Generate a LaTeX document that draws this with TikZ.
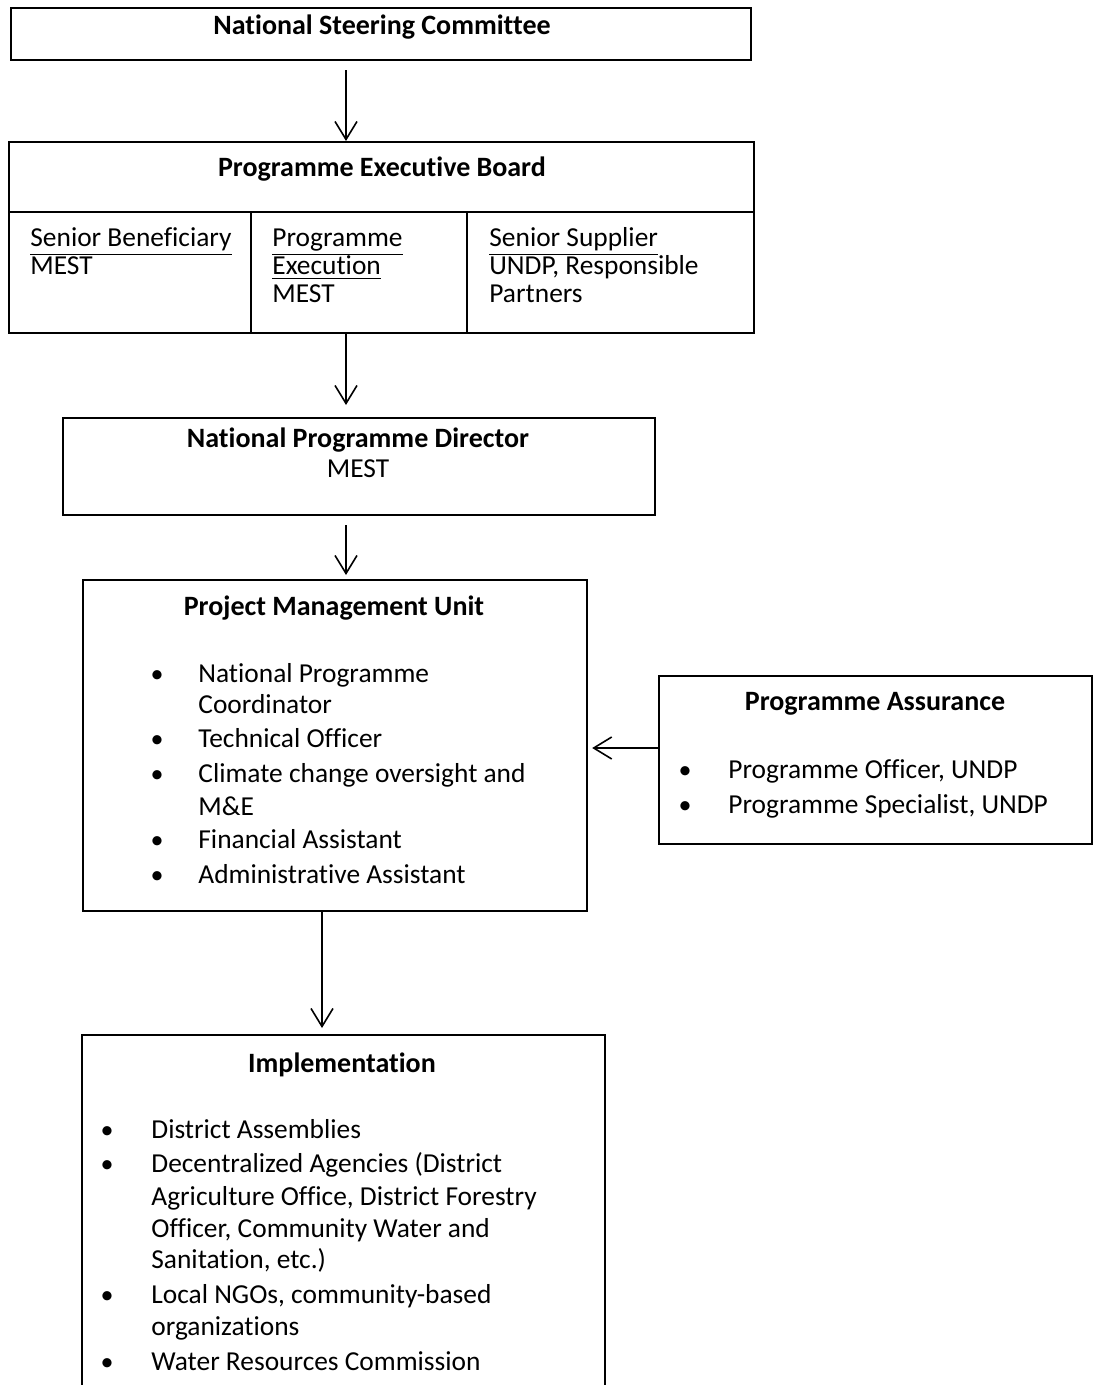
\documentclass[tikz,border=0pt]{standalone}
\usepackage{fontspec}
\setmainfont{Carlito}[Ligatures={NoCommon}]
\usetikzlibrary{arrows.meta}
\begin{document}
\begin{tikzpicture}[x=0.5pt,y=-0.5pt,
  box/.style={draw, line width=1.1pt, rectangle, inner sep=0, anchor=north west},
  openbox/.style={rectangle, inner sep=0, anchor=north west},
  divider/.style={line width=1.1pt},
  conn/.style={line width=0.8pt, -{Straight Barb[length=9pt,width=11pt,line width=0.8pt]}},
  txt/.style={inner sep=0, anchor=base west, font=\fontsize{13.7}{16}\selectfont},
  ttl/.style={inner sep=0, anchor=base, font=\fontsize{14}{16}\selectfont\bfseries},
  ctr/.style={inner sep=0, anchor=base, font=\fontsize{13.7}{16}\selectfont},
  bul/.style={inner sep=0, anchor=base, font=\fontsize{13}{16}\selectfont},
]
\useasboundingbox (0,0) rectangle (1094,1385);

% boxes
\node[box, minimum width=370pt, minimum height=26pt] (nsc) at (10,7) {};
\node[box, minimum width=372.5pt, minimum height=95.5pt] (peb) at (8,141) {};
\node[box, minimum width=296pt, minimum height=48.5pt] (npd) at (62,417) {};
\node[box, minimum width=252pt, minimum height=165.5pt] (pmu) at (82,579) {};
\node[box, minimum width=216.5pt, minimum height=84pt] (pa) at (658,675) {};
\node[openbox, minimum width=261pt, minimum height=176pt] (impl) at (82,1035) {};
\draw[divider] (impl.south west) |- (impl.north east) -- (impl.south east);

% PEB dividers
\coordinate (hd) at (0,212);
\coordinate (v1) at (251,0);
\coordinate (v2) at (467,0);
\draw[divider] (peb.west |- hd) -- (peb.east |- hd);
\draw[divider] (v1 |- hd) -- (v1 |- peb.south);
\draw[divider] (v2 |- hd) -- (v2 |- peb.south);

% connectors
\coordinate (c1) at (346,0);
\coordinate (c4) at (322,0);
\coordinate (cpa) at (0,748);
\draw[conn, shorten <=4.5pt] (c1 |- nsc.south) -- (c1 |- peb.north);
\draw[conn, shorten >=6pt] (c1 |- peb.south) -- (c1 |- npd.north);
\draw[conn, shorten <=4.5pt, shorten >=2pt] (c1 |- npd.south) -- (c1 |- pmu.north);
\draw[conn, shorten >=3.5pt] (c4 |- pmu.south) -- (c4 |- impl.north);
\draw[conn, shorten >=2pt] (pa.west |- cpa) -- (pmu.east |- cpa);

% National Steering Committee
\node[ttl] (t-nsc) at (382,35) {National Steering Committee};

% Programme Executive Board
\node[ttl] (t-peb) at (382,177) {Programme Executive Board};
\node[txt] (sb1) at (30,247) {\underline{Senior Beneficiary}};
\node[txt] (sb2) at (30,275) {MEST};
\node[txt] (pe1) at (272,247) {\underline{Programme}};
\node[txt] (pe2) at (272,275) {\underline{Execution}};
\node[txt] (pe3) at (272,303) {MEST};
\node[txt] (ss1) at (489,247) {\underline{Senior Supplier}};
\node[txt] (ss2) at (489,275) {UNDP, Responsible};
\node[txt] (ss3) at (489,303) {Partners};

% National Programme Director
\node[ttl] (t-npd) at (358,447) {National Programme Director};
\node[ctr] (npd2) at (358,477) {MEST};

% Project Management Unit
\node[ttl] (t-pmu) at (334,615) {Project Management Unit};
\node[bul] (pb1) at (157,682) {•};
\node[txt] (pm1) at (198,682) {National Programme};
\node[txt] (pm2) at (198,713) {Coordinator};
\node[bul] (pb2) at (157,747) {•};
\node[txt] (pm3) at (198,747) {Technical Officer};
\node[bul] (pb3) at (157,782) {•};
\node[txt] (pm4) at (198,782) {Climate change oversight and};
\node[txt] (pm5) at (198,815) {M\&E};
\node[bul] (pb4) at (157,848) {•};
\node[txt] (pm6) at (198,848) {Financial Assistant};
\node[bul] (pb5) at (157,883) {•};
\node[txt] (pm7) at (198,883) {Administrative Assistant};

% Programme Assurance
\node[ttl] (t-pa) at (875,710) {Programme Assurance};
\node[bul] (ab1) at (685,778) {•};
\node[txt] (pa1) at (728,778) {Programme Officer, UNDP};
\node[bul] (ab2) at (685,813) {•};
\node[txt] (pa2) at (728,813) {Programme Specialist, UNDP};

% Implementation
\node[ttl] (t-impl) at (342,1072) {Implementation};
\node[bul] (ib1) at (107,1138) {•};
\node[txt] (im1) at (151,1138) {District Assemblies};
\node[bul] (ib2) at (107,1172) {•};
\node[txt] (im2) at (151,1172) {Decentralized Agencies (District};
\node[txt] (im3) at (151,1205) {Agriculture Office, District Forestry};
\node[txt] (im4) at (151,1237) {Officer, Community Water and};
\node[txt] (im5) at (151,1268) {Sanitation, etc.)};
\node[bul] (ib3) at (107,1303) {•};
\node[txt] (im6) at (151,1303) {Local NGOs, community-based};
\node[txt] (im7) at (151,1335) {organizations};
\node[bul] (ib4) at (107,1370) {•};
\node[txt] (im8) at (151,1370) {Water Resources Commission};
\end{tikzpicture}
\end{document}
